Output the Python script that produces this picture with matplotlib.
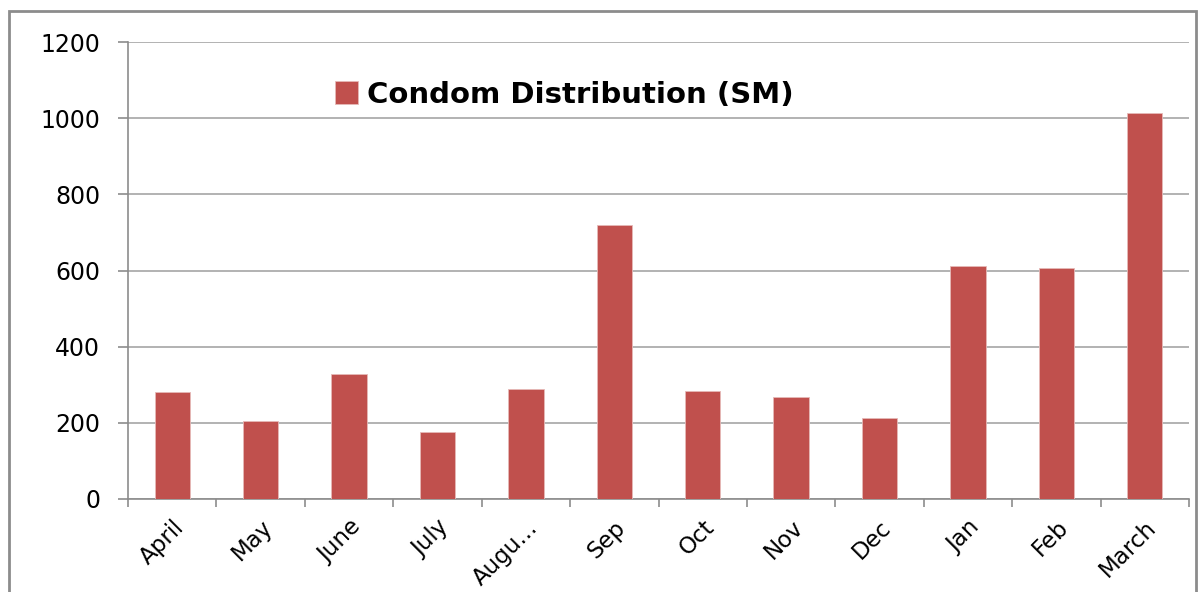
import matplotlib.pyplot as plt
import matplotlib.patches as mpatches
import numpy as np

months = ['April', 'May', 'June', 'July', 'Augu...', 'Sep', 'Oct', 'Nov', 'Dec', 'Jan', 'Feb', 'March']
distribution = [281, 205, 329, 176, 289, 719, 284, 268, 213, 612, 606, 1013]
y_ticks = [0, 200, 400, 600, 800, 1000, 1200]

plt.rcParams['font.family'] = ['DejaVu Sans']

fig = plt.figure(figsize=(11.99, 5.92), dpi=100)
ax = fig.add_axes([128 / 1199, 1 - 499 / 592, (1189 - 128) / 1199, (499 - 42) / 592])

x = np.arange(len(months))
ax.bar(x, distribution, width=0.4, color='#C0504D', edgecolor='#E6B9B8', linewidth=0.6,
       label='Condom Distribution (SM)', zorder=3)

ax.set_xlim(-0.5, len(months) - 0.5)
ax.set_ylim(0, 1200)
ax.set_yticks(y_ticks)
ax.tick_params(axis='y', labelsize=17, length=7, color='#8C8C8C', width=1.2, pad=13)
ax.yaxis.grid(True, color='#A6A6A6', linewidth=1.2, zorder=0)

# labels in the middle of each category, tick marks on the boundaries
ax.set_xticks(x)
ax.set_xticklabels(months, rotation=45, ha='right', rotation_mode='anchor', fontsize=16.5)
ax.tick_params(axis='x', which='major', length=0, pad=12)
ax.set_xticks(np.arange(-0.5, len(months)), minor=True)
ax.tick_params(axis='x', which='minor', length=6, color='#8C8C8C', width=1.2)

for s in ['top', 'right']:
    ax.spines[s].set_visible(False)
for s in ['left', 'bottom']:
    ax.spines[s].set_color('#8C8C8C')
    ax.spines[s].set_linewidth(1.2)

ax.legend(loc='center left', bbox_to_anchor=(0.195, 0.885), frameon=False,
          prop={'weight': 'bold', 'size': 21}, handlelength=0.8, handleheight=0.8,
          handletextpad=0.3, borderpad=0, borderaxespad=0)

# outer chart frame
fig.patches.append(mpatches.Rectangle((9 / 1199, -0.05), (1196 - 9) / 1199, 1.05 - 11 / 592,
                                      transform=fig.transFigure, fill=False,
                                      edgecolor='#8C8C8C', linewidth=2))

fig.savefig('out.png', dpi=100)
